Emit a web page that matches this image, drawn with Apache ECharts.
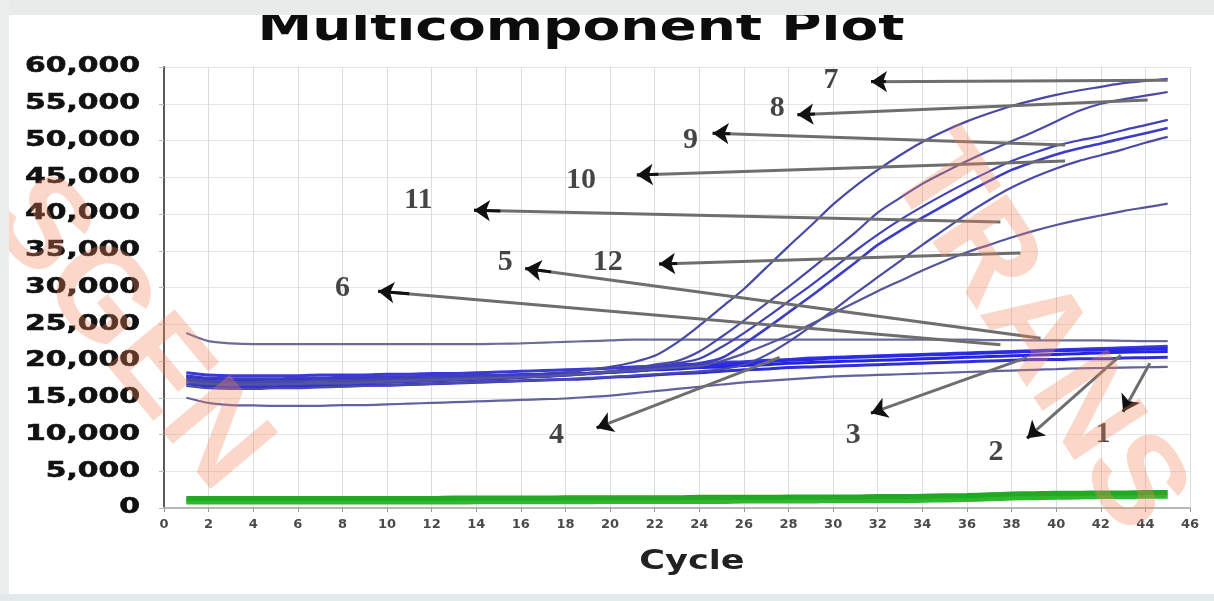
<!DOCTYPE html>
<html>
<head>
<meta charset="utf-8">
<title>Multicomponent Plot</title>
<script src="https://cdn.jsdelivr.net/npm/echarts@6/dist/echarts.min.js"></script>
<style>
  html, body { margin: 0; padding: 0; background: #fff; }
  #chart { width: 1214px; height: 601px; }
</style>
</head>
<body>
<div id="chart"></div>
<script>
// x: cycle number of every reading
var cycles = [1, 2, 3, 4, 5, 6, 7, 8, 9, 10, 11, 12, 13, 14, 15, 16, 17, 18, 19, 20,
  21, 22, 23, 24, 25, 26, 27, 28, 29, 30, 31, 32, 33, 34, 35, 36, 37, 38, 39, 40,
  41, 42, 43, 44, 45];

// y axis tick values (labels drawn as 60,000 etc)
var yTicks = [0, 5000, 10000, 15000, 20000, 25000, 30000, 35000, 40000, 45000, 50000, 55000, 60000];

// amplification curves (arrows 7 .. 12)
var amp7 = [17600, 17300, 17200, 17200, 17300, 17300, 17400, 17400, 17500, 17500,
  17600, 17700, 17800, 17900, 18000, 18100, 18300, 18500, 18800, 19200,
  19800, 20700, 22500, 24800, 27300, 29800, 32700, 35600, 38400, 41300,
  43800, 46000, 48000, 49800, 51300, 52600, 53700, 54700, 55500, 56200,
  56800, 57300, 57800, 58100, 58400];
var amp8 = [17400, 17100, 17000, 17000, 17000, 17100, 17100, 17200, 17300, 17300,
  17400, 17500, 17600, 17700, 17800, 17900, 18000, 18200, 18400, 18600,
  19000, 19500, 20000, 21300, 23300, 25500, 27800, 30100, 32500, 35000,
  37500, 40200, 42200, 44100, 45700, 47200, 48600, 49900, 51200, 52600,
  54000, 55000, 55600, 56100, 56600];
var amp9 = [17000, 16800, 16700, 16700, 16800, 16800, 16900, 16900, 17000, 17100,
  17200, 17300, 17400, 17500, 17600, 17700, 17900, 18000, 18200, 18400,
  18800, 19200, 19700, 20300, 21900, 23800, 25900, 28100, 30300, 32600,
  35000, 37200, 39200, 41000, 42700, 44300, 45800, 47200, 48300, 49300,
  50000, 50600, 51400, 52100, 52800];
var amp10 = [18000, 17700, 17600, 17600, 17600, 17700, 17700, 17800, 17800, 17900,
  17900, 18000, 18000, 18100, 18100, 18200, 18200, 18300, 18300, 18400,
  18600, 18900, 19300, 19700, 20400, 22300, 24400, 26600, 28800, 31100,
  33400, 35800, 37700, 39500, 41200, 42900, 44500, 46000, 47100, 48100,
  48900, 49600, 50300, 51000, 51700];
var amp11 = [16600, 16300, 16200, 16200, 16300, 16300, 16400, 16500, 16600, 16700,
  16800, 16900, 17000, 17100, 17200, 17300, 17400, 17500, 17700, 17800,
  18000, 18200, 18400, 18600, 18900, 19500, 20800, 22600, 24700, 26900,
  29200, 31400, 33600, 35800, 37900, 40000, 41900, 43600, 45000, 46200,
  47200, 48000, 48800, 49700, 50500];
var amp12 = [17200, 16900, 16800, 16800, 16900, 16900, 17000, 17000, 17100, 17200,
  17300, 17400, 17500, 17600, 17700, 17800, 17900, 18100, 18300, 18500,
  18700, 18900, 19100, 19300, 20000, 21000, 22200, 23500, 25000, 26500,
  28000, 29500, 30900, 32300, 33600, 34800, 35800, 36800, 37700, 38500,
  39200, 39800, 40400, 40900, 41400];

// flat wells (arrows 1 .. 6)
var base1 = [15000, 14300, 14000, 13950, 13900, 13900, 13900, 14000, 14000, 14100,
  14200, 14300, 14400, 14500, 14600, 14700, 14800, 14900, 15100, 15300,
  15600, 15900, 16200, 16500, 16800, 17100, 17300, 17500, 17700, 17900,
  18000, 18100, 18200, 18300, 18400, 18500, 18600, 18700, 18800, 18900,
  19000, 19050, 19100, 19150, 19200];
var base2 = [23800, 22700, 22400, 22300, 22300, 22300, 22300, 22300, 22300, 22300,
  22300, 22300, 22300, 22300, 22350, 22400, 22500, 22600, 22700, 22800,
  22900, 22900, 22900, 22900, 22900, 22900, 22900, 22900, 22900, 22900,
  22900, 22900, 22900, 22900, 22900, 22900, 22850, 22850, 22800, 22800,
  22800, 22800, 22750, 22700, 22700];
var base3 = [18400, 18100, 18000, 18000, 18000, 18000, 18100, 18100, 18100, 18200,
  18200, 18300, 18300, 18400, 18500, 18600, 18700, 18800, 18900, 19000,
  19200, 19300, 19500, 19600, 19800, 19900, 20100, 20200, 20400, 20500,
  20600, 20700, 20800, 20900, 21000, 21100, 21200, 21300, 21400, 21500,
  21600, 21700, 21800, 21900, 22000];
var base4 = [17900, 17600, 17500, 17500, 17500, 17500, 17500, 17600, 17600, 17600,
  17700, 17700, 17800, 17800, 17900, 18000, 18100, 18200, 18300, 18500,
  18600, 18800, 18900, 19100, 19200, 19400, 19500, 19700, 19800, 19900,
  20000, 20100, 20200, 20300, 20400, 20500, 20600, 20700, 20800, 20900,
  21000, 21100, 21200, 21250, 21300];
var base5 = [16900, 16600, 16500, 16500, 16500, 16600, 16600, 16600, 16700, 16700,
  16800, 16900, 17000, 17100, 17200, 17300, 17400, 17500, 17600, 17800,
  17900, 18100, 18300, 18400, 18600, 18800, 18900, 19100, 19200, 19300,
  19400, 19500, 19600, 19700, 19800, 19900, 20000, 20100, 20200, 20200,
  20300, 20300, 20400, 20450, 20500];
var base6 = [17300, 17000, 16900, 16900, 16900, 17000, 17000, 17000, 17100, 17100,
  17200, 17300, 17400, 17500, 17600, 17800, 17900, 18100, 18300, 18500,
  18700, 18900, 19100, 19300, 19500, 19700, 19900, 20100, 20200, 20400,
  20500, 20600, 20700, 20800, 20900, 21000, 21100, 21200, 21300, 21400,
  21450, 21500, 21550, 21600, 21700];

// green dye near the bottom
var green1 = [800, 800, 800, 800, 800, 800, 800, 800, 800, 800,
  800, 800, 800, 850, 850, 850, 850, 850, 850, 900,
  900, 900, 900, 900, 900, 950, 950, 950, 950, 1000,
  1000, 1000, 1000, 1050, 1100, 1150, 1250, 1350, 1400, 1450,
  1500, 1550, 1550, 1600, 1600];
var green2 = [1300, 1300, 1300, 1300, 1300, 1300, 1300, 1300, 1300, 1300,
  1300, 1300, 1350, 1350, 1350, 1350, 1350, 1400, 1400, 1400,
  1400, 1400, 1400, 1450, 1450, 1450, 1450, 1500, 1500, 1500,
  1500, 1550, 1550, 1600, 1650, 1700, 1800, 1900, 1950, 2000,
  2000, 2050, 2050, 2100, 2100];

// numbered callouts: text, label spot, arrow tail (on the curve) and arrow tip
var calloutText = ['7', '8', '9', '10', '11', '12', '5', '6', '4', '3', '2', '1'];
var calloutPos = [[29.9, 58200], [27.5, 54400], [23.6, 50100], [18.7, 44600], [11.4, 41900], [19.9, 33500],
  [15.3, 33500], [8.0, 29900], [17.6, 9900], [30.9, 9900], [37.3, 7600], [42.1, 10100]];
var arrowTail = [[45.0, 58200], [44.1, 55500], [40.4, 49400], [40.4, 47200], [37.5, 38900], [38.4, 34700],
  [39.3, 23100], [37.5, 22200], [27.6, 20500], [38.7, 20500], [42.9, 20800], [44.2, 19700]];
var arrowTip = [[31.7, 58000], [28.4, 53500], [24.6, 51000], [21.2, 45300], [13.9, 40500], [22.2, 33200],
  [16.2, 32600], [9.6, 29500], [19.4, 10900], [31.7, 12900], [38.7, 9500], [43.0, 13100]];

function pairs(values) {
  return cycles.map(function (c, i) { return [c, values[i]]; });
}

function curve(name, values, color, width) {
  return {
    name: name,
    type: 'line',
    data: pairs(values),
    smooth: 0.3,
    showSymbol: false,
    silent: true,
    lineStyle: { color: color, width: width },
    z: 3
  };
}

// short piece at the tip so the arrow head can be black while the shaft stays grey
function headPiece(tail, tip) {
  var k = 0.05;
  return { coords: [[tip[0] + (tail[0] - tip[0]) * k, tip[1] + (tail[1] - tip[1]) * k], tip] };
}

var chart = echarts.init(document.getElementById('chart'));

var series = [
  curve('green1', green1, '#2eb82e', 5),
  curve('green2', green2, '#22a822', 5),
  curve('1', base1, '#62629e', 2.2),
  curve('2', base2, '#6c6c98', 2.2),
  curve('3', base3, '#3a3ad8', 3),
  curve('4', base4, '#2626e0', 3),
  curve('5', base5, '#3030d0', 3),
  curve('6', base6, '#2a2ae6', 3),
  curve('7', amp7, '#4848a8', 2.2),
  curve('8', amp8, '#4a4aa6', 2.2),
  curve('9', amp9, '#4242b8', 2.2),
  curve('10', amp10, '#3c3cc4', 2.6),
  curve('11', amp11, '#4a4aa8', 2.2),
  curve('12', amp12, '#55559e', 2.2),
  {
    type: 'lines',
    coordinateSystem: 'cartesian2d',
    silent: true,
    z: 5,
    symbol: ['none', 'none'],
    lineStyle: { color: '#6e6e6e', width: 3, opacity: 1, curveness: 0 },
    data: arrowTail.map(function (t, i) { return { coords: [t, arrowTip[i]] }; })
  },
  {
    type: 'lines',
    coordinateSystem: 'cartesian2d',
    silent: true,
    z: 6,
    symbol: ['none', 'arrow'],
    symbolSize: 16,
    lineStyle: { color: '#111', width: 3, opacity: 1, curveness: 0 },
    data: arrowTail.map(function (t, i) { return headPiece(t, arrowTip[i]); })
  },
  {
    type: 'scatter',
    silent: true,
    symbolSize: 0,
    z: 6,
    data: calloutPos.map(function (p, i) { return { name: calloutText[i], value: p }; }),
    label: {
      show: true,
      position: 'inside',
      formatter: '{b}',
      fontFamily: 'Liberation Serif',
      fontWeight: 'bold',
      fontSize: 30,
      color: '#161616'
    }
  }
];

var option = {
  backgroundColor: '#fff',
  animation: false,
  grid: { left: 164, right: 24, top: 67, bottom: 93 },
  xAxis: {
    type: 'value',
    min: 0,
    max: 46,
    interval: 2,
    axisLine: { show: true, lineStyle: { color: '#b8b8b8', width: 2 } },
    axisTick: { show: true, length: 4, lineStyle: { color: '#999' } },
    axisLabel: {
      margin: 10,
      fontFamily: 'DejaVu Sans',
      fontWeight: 'bold',
      fontSize: 13,
      color: '#4a4a4a'
    },
    splitLine: { show: true, lineStyle: { color: '#dcdcdc', width: 1 } }
  },
  yAxis: {
    type: 'value',
    min: 0,
    max: 60000,
    interval: 5000,
    axisLine: { show: true, lineStyle: { color: '#5a5a5a', width: 2 } },
    axisTick: { show: true, length: 5, lineStyle: { color: '#bbb' } },
    axisLabel: { show: false },
    splitLine: { show: true, lineStyle: { color: '#e6e6e6', width: 1 } }
  },
  series: series
};
chart.setOption(option);

// y labels are drawn wide (the original uses a very wide bold face), placed through the axis scale
var yLabelEls = yTicks.map(function (v) {
  return {
    type: 'text',
    x: 140,
    y: chart.convertToPixel({ yAxisIndex: 0 }, v),
    scaleX: 1.42,
    silent: true,
    style: {
      text: v.toLocaleString('en-US'),
      align: 'right',
      verticalAlign: 'middle',
      font: 'bold 21px "DejaVu Sans"',
      fill: '#111',
      stroke: '#111',
      lineWidth: 0.6
    }
  };
});

var watermark = 'rgba(242, 135, 95, 0.33)';

chart.setOption({
  graphic: yLabelEls.concat([
    {
      type: 'text',
      x: 581,
      y: 30,
      z: 1,
      scaleX: 1.375,
      silent: true,
      style: {
        text: 'Multicomponent Plot',
        align: 'center',
        verticalAlign: 'middle',
        font: 'bold 40px "DejaVu Sans"',
        fill: '#0c0c0c'
      }
    },
    {
      type: 'text',
      x: 692,
      y: 562,
      scaleX: 1.35,
      silent: true,
      style: {
        text: 'Cycle',
        align: 'center',
        verticalAlign: 'middle',
        font: 'bold 26px "DejaVu Sans"',
        fill: '#222'
      }
    },
    // watermark across the plot
    {
      type: 'text',
      x: 915,
      y: 150,
      rotation: -57 * Math.PI / 180,
      silent: true,
      z: 100,
      style: {
        text: 'TRANS',
        align: 'left',
        verticalAlign: 'middle',
        font: 'bold 128px "Liberation Sans"',
        fill: watermark
      }
    },
    {
      type: 'text',
      x: 10,
      y: 195,
      rotation: -50 * Math.PI / 180,
      silent: true,
      z: 100,
      style: {
        text: 'SGEN',
        align: 'left',
        verticalAlign: 'middle',
        font: 'bold 128px "Liberation Sans"',
        fill: watermark
      }
    },
    // grey frame of the screenshot
    { type: 'rect', silent: true, z: 200, shape: { x: 0, y: 0, width: 1214, height: 15 }, style: { fill: '#e9ebeb' } },
    { type: 'rect', silent: true, z: 200, shape: { x: 0, y: 0, width: 9, height: 601 }, style: { fill: '#eceeee' } },
    { type: 'rect', silent: true, z: 200, shape: { x: 0, y: 594, width: 1214, height: 7 }, style: { fill: '#e4eaea' } }
  ])
});
</script>
</body>
</html>
